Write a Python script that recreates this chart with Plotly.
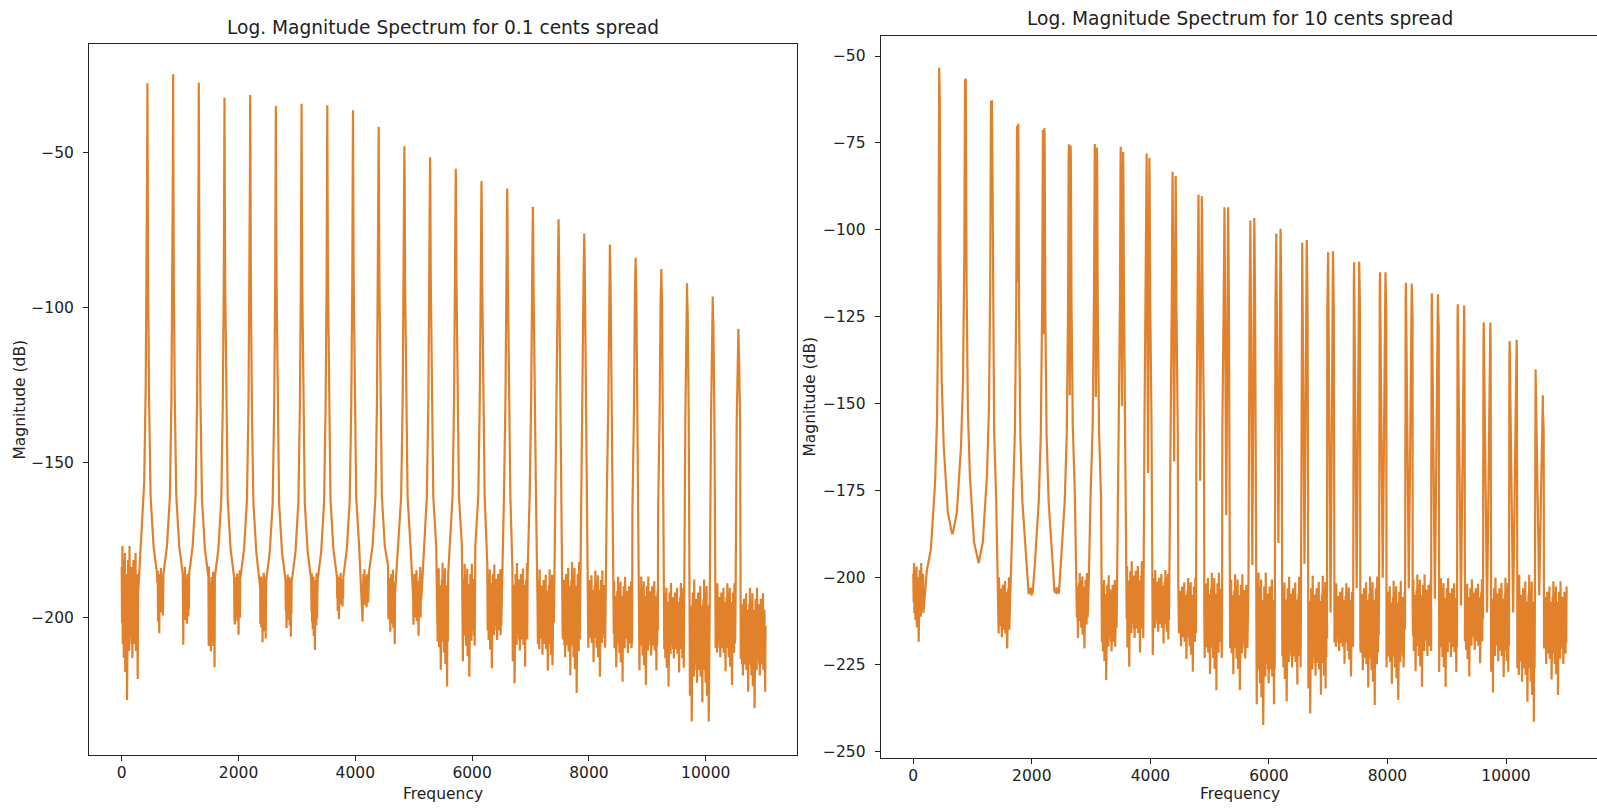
import plotly.graph_objects as go
from plotly.subplots import make_subplots

ORANGE = "#e2812b"
FONT = "DejaVu Sans"

# harmonic frequencies (Hz), same fundamental in both panels
harm_hz = [440, 880, 1320, 1760, 2200, 2640, 3080, 3520, 3960, 4400, 4840, 5280,
           5720, 6160, 6600, 7040, 7480, 7920, 8360, 8800, 9240, 9680, 10120, 10560]

# ---- left: 0.1 cents spread ----
left_peak_db = [-27.5, -24.6, -27.3, -32.2, -31.3, -34.8, -34.1, -34.6, -36.2, -41.5, -47.8, -51.4,
                -55.1, -59.1, -61.5, -67.4, -71.4, -76.0, -79.6, -83.9, -87.5, -92.1, -96.4, -106.9]

# noise patches: before first peak, between peaks, after last peak
left_gap_hz = [140, 660, 1100, 1540, 1980, 2420, 2860, 3300, 3740, 4180, 4620, 5060, 5500,
               5940, 6380, 6820, 7260, 7700, 8140, 8580, 9020, 9460, 9900, 10340, 10812]
left_gap_hw = [140, 50, 50, 50, 50, 50, 50, 50, 50, 55, 60, 70, 90,
               110, 120, 130, 140, 150, 150, 160, 160, 170, 170, 170, 212]
left_gap_top = [-181.5, -186, -186, -187, -187, -188, -188, -188, -187, -186, -186, -186, -186,
                -186, -186, -186, -188, -186, -188, -190, -190, -192, -192, -192, -194]
left_gap_low = [-226.7, -205.2, -208.9, -221.3, -208.9, -211.6, -206.3, -210.6, -200.6, -201.4, -212.7, -209.5, -222.4,
                -219.2, -216.5, -221.3, -222.4, -224.5, -219.2, -220.8, -221.9, -222.4, -233.7, -221.9, -229.4]

# ---- right: 10 cents spread (each harmonic splits in two) ----
right_lo_hz = [437, 875, 1312, 1750, 2187, 2625, 3062, 3500, 3937, 4375, 4812, 5250,
               5687, 6124, 6562, 6999, 7437, 7874, 8311, 8749, 9186, 9624, 10061, 10499]
right_hi_hz = [443, 885, 1328, 1770, 2213, 2655, 3098, 3540, 3983, 4426, 4868, 5311,
               5753, 6196, 6638, 7081, 7523, 7966, 8409, 8851, 9294, 9736, 10179, 10621]
right_lo_db = [-53.4, -56.6, -62.9, -70.1, -71.3, -75.4, -75.3, -76.1, -78.0, -83.3, -89.8, -93.5,
               -97.3, -101.0, -103.7, -106.4, -109.3, -112.2, -115.2, -118.2, -121.4, -126.6, -131.9, -140.1]
right_hi_db = [-53.6, -56.8, -62.7, -69.5, -70.7, -75.7, -76.3, -77.6, -79.3, -84.5, -90.3, -93.5,
               -96.6, -99.7, -102.9, -106.1, -109.1, -112.2, -115.4, -118.5, -121.7, -126.6, -131.6, -147.5]
right_dip_db = [-58, -62, -70, -115, -130, -147.5, -148, -150.7, -169.9, -166.6, -172.1, -182,
                -196.3, -190, -196, -210, -203, -200, -203, -206, -208, -210, -210, -205]

right_gap_hz = [85, 660, 1100, 1530, 1980, 2420, 2860, 3300, 3740, 4180, 4620, 5060, 5500,
                5940, 6380, 6820, 7260, 7700, 8140, 8580, 9020, 9460, 9900, 10340, 10832]
right_gap_hw = [85, 0, 0, 90, 40, 40, 100, 130, 140, 140, 150, 150, 155,
                158, 160, 160, 160, 158, 156, 155, 153, 152, 150, 148, 190]
right_gap_top = [-197.8, -187.2, -195.8, -202, -203, -203, -200.6, -202, -198, -200, -202.5, -201.6, -202,
                 -202.5, -203, -203, -204, -203, -204, -202, -203, -203, -203, -203, -204]
right_gap_low = [-218.4, -187.2, -195.8, -223.6, -205.5, -205, -220.3, -229.4, -225.6, -222.2, -227, -232.3, -232.3,
                 -242.3, -235.6, -239, -228.4, -236.6, -235.1, -231.3, -231.3, -228.4, -233, -241.4, -233.7]

# skirt shape around a peak: offset (Hz) and height above the noise top (dB)
left_skirt_off = [4, 12, 29, 55, 105, 165]
left_skirt_h = [130, 95, 56, 25, 9, 0]
right_skirt_off = [4, 14, 36, 70, 140, 208]
right_skirt_h = [125, 80, 44, 25, 6, 0]

# relative depth of the noise strokes inside a patch (0 = top, 1 = deepest spike)
NOISE = [0.05, 0.45, -0.1, 0.6, 0.0, 0.35, 0.7, 0.15, 0.5, -0.05, 0.8, 0.25, 0.55, 0.1, 0.4, 1.0, 0.2, 0.6,
         0.0, 0.45, 0.3, 0.65, -0.1, 0.5, 0.55, 0.2, 0.4, 0.05, 0.6, 0.3, 0.7, 0.15, 0.5, 0.0, 0.35, 0.1,
         0.6, 0.2, 0.5, -0.05, 0.65, 0.3, 0.55, 0.1, 0.45, 0.85, 0.25, 0.6]
NOISE_STEP = 6  # Hz between noise strokes


def spectrum(lo_hz, hi_hz, lo_db, hi_db, dip_db, g_mid, g_hw, g_top, g_low, sk_off, sk_h):
    xs, ys = [], []

    def add_noise(g):
        if g_hw[g] == 0:
            return
        n = max(len(NOISE) // 2, int(2 * g_hw[g] / NOISE_STEP)) + 1
        for i in range(n):
            xs.append(g_mid[g] - g_hw[g] + 2 * g_hw[g] * i / (n - 1))
            ys.append(g_top[g] + NOISE[(i + 7 * g) % len(NOISE)] * (g_low[g] - g_top[g]))

    add_noise(0)
    for k in range(len(lo_hz)):
        room = lo_hz[k] - (g_mid[k] + g_hw[k])
        for i in reversed(range(len(sk_off))):
            if sk_off[i] < room:
                xs.append(lo_hz[k] - sk_off[i])
                ys.append(min(g_top[k] + sk_h[i], lo_db[k] - 5 * (i + 1)))
        xs.append(lo_hz[k])
        ys.append(lo_db[k])
        if hi_hz[k] != lo_hz[k]:
            xs.append((lo_hz[k] + hi_hz[k]) / 2)
            ys.append(dip_db[k])
            xs.append(hi_hz[k])
            ys.append(hi_db[k])
        room = (g_mid[k + 1] - g_hw[k + 1]) - hi_hz[k]
        for i in range(len(sk_off)):
            if sk_off[i] < room:
                xs.append(hi_hz[k] + sk_off[i])
                ys.append(min(g_top[k + 1] + sk_h[i], hi_db[k] - 5 * (i + 1)))
        add_noise(k + 1)
    return xs, ys


lx, ly = spectrum(harm_hz, harm_hz, left_peak_db, left_peak_db, left_peak_db,
                  left_gap_hz, left_gap_hw, left_gap_top, left_gap_low, left_skirt_off, left_skirt_h)
rx, ry = spectrum(right_lo_hz, right_hi_hz, right_lo_db, right_hi_db, right_dip_db,
                  right_gap_hz, right_gap_hw, right_gap_top, right_gap_low, right_skirt_off, right_skirt_h)

W, H = 1597, 808
fig = make_subplots(rows=1, cols=2)
fig.add_trace(go.Scatter(x=lx, y=ly, mode="lines", line=dict(color=ORANGE, width=2.2),
                         showlegend=False, hoverinfo="skip"), row=1, col=1)
fig.add_trace(go.Scatter(x=rx, y=ry, mode="lines", line=dict(color=ORANGE, width=2.2),
                         showlegend=False, hoverinfo="skip"), row=1, col=2)

axis_style = dict(showgrid=False, zeroline=False, showline=True, linecolor="#222", linewidth=1,
                  ticks="outside", ticklen=5, tickwidth=1, tickcolor="#222", automargin=False,
                  tickfont=dict(family=FONT, size=15.5, color="#222"))

x_ticks = [0, 2000, 4000, 6000, 8000, 10000]
fig.update_xaxes(**axis_style, tickvals=x_ticks, ticktext=[str(t) for t in x_ticks], ticklabelstandoff=-2)
fig.update_yaxes(**axis_style, ticklabelstandoff=6)
fig.update_layout(
    width=W, height=H, margin=dict(l=0, r=0, t=0, b=0),
    plot_bgcolor="white", paper_bgcolor="white",
    font=dict(family=FONT, size=15.5, color="#222"),
    xaxis=dict(domain=[89 / W, 797 / W], range=[-560, 11563], mirror=True),
    yaxis=dict(domain=[1 - 755 / H, 1 - 44 / H], range=[-244.5, -14.8], mirror=True,
               tickvals=[-200, -150, -100, -50]),
    xaxis2=dict(domain=[880.7 / W, 1.0], range=[-550, 11535], mirror=True),
    yaxis2=dict(domain=[1 - 758.3 / H, 1 - 36 / H], range=[-251.9, -44.25], mirror=False,
                tickvals=[-250, -225, -200, -175, -150, -125, -100, -75, -50]),
)

notes = [
    ("Log. Magnitude Spectrum for 0.1 cents spread", 443, 27.5, 18.6, 0),
    ("Log. Magnitude Spectrum for 10 cents spread", 1240, 18.5, 18.6, 0),
    ("Frequency", 443, 793.5, 15.5, 0),
    ("Frequency", 1240, 793.5, 15.5, 0),
    ("Magnitude (dB)", 19, 399.5, 15.5, -90),
    ("Magnitude (dB)", 809.5, 397, 15.5, -90),
]
for text, x, y, size, angle in notes:
    fig.add_annotation(text=text, x=x / W, y=1 - y / H, xref="paper", yref="paper",
                       xanchor="center", yanchor="middle", showarrow=False, textangle=angle,
                       font=dict(family=FONT, size=size, color="#222"))

# page body has a default 8px margin; drop it so the figure sits at the window origin
fig.write_html("out.html", config={"displayModeBar": False},
               post_script="document.body.style.margin='0';document.body.style.overflow='hidden';")
